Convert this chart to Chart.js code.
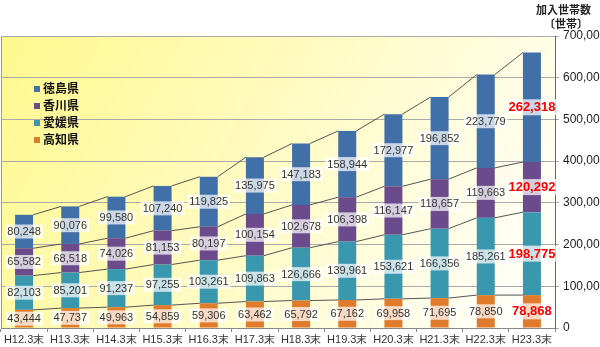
<!DOCTYPE html>
<html>
<head>
<meta charset="utf-8">
<script src="https://cdn.jsdelivr.net/npm/chart.js@4"></script>
<style>
    body { margin: 0; background: #fff; }
    #wrap { position: relative; width: 600px; height: 347px; }
    #legend { position: absolute; left: 34px; top: 79px; font: bold 12px "Noto Sans CJK JP", sans-serif; color: #111; }
    #legend div { height: 17px; line-height: 17px; }
    #legend span { display: inline-block; width: 6px; height: 6px; margin-right: 3px; vertical-align: 1px; }
    .unit { position: absolute; font: bold 11px "Noto Sans CJK JP", sans-serif; color: #222; }
</style>
</head>
<body>
<div id="wrap">
    <canvas id="chart" width="600" height="347"></canvas>
    <div class="unit" style="left:536px;top:1px;">加入世帯数</div>
    <div class="unit" style="left:544px;top:15px;">〔世帯〕</div>
    <div id="legend"></div>
</div>
<script>
const categories = ['H12.3末', 'H13.3末', 'H14.3末', 'H15.3末', 'H16.3末', 'H17.3末', 'H18.3末', 'H19.3末', 'H20.3末', 'H21.3末', 'H22.3末', 'H23.3末'];
const kochi = [43444, 47737, 49963, 54859, 59306, 63462, 65792, 67162, 69958, 71695, 78850, 78868];
const ehime = [82103, 85201, 91237, 97255, 103261, 109863, 126666, 139961, 153621, 166356, 185261, 198775];
const kagawa = [65582, 68518, 74026, 81153, 80197, 100154, 102678, 106398, 116147, 118657, 119663, 120292];
const tokushima = [80248, 90076, 99580, 107240, 119825, 135975, 147183, 158944, 172977, 196852, 223779, 262318];
const yTicks = [0, 100000, 200000, 300000, 400000, 500000, 600000, 700000];

const series = [
    { label: '高知県', data: kochi, color: '#e07b2c' },
    { label: '愛媛県', data: ehime, color: '#3a98ae' },
    { label: '香川県', data: kagawa, color: '#6c4b8c' },
    { label: '徳島県', data: tokushima, color: '#4170a8' }
];

// legend (top entry first)
const legend = document.getElementById('legend');
series.slice().reverse().forEach(s => {
    const row = document.createElement('div');
    row.innerHTML = `<span style="background:${s.color}"></span>${s.label}`;
    legend.appendChild(row);
});

const fmt = v => v.toLocaleString('en-US');

const plotBg = {
    id: 'plotBg',
    beforeDraw(chart) {
        const { ctx, chartArea: a } = chart;
        const g = ctx.createLinearGradient(a.left, a.top, a.right, a.bottom);
        g.addColorStop(0, '#fff88e');
        g.addColorStop(0.6, '#fffcd2');
        g.addColorStop(1, '#ffffff');
        ctx.save();
        ctx.fillStyle = g;
        ctx.fillRect(a.left, a.top, a.right - a.left, a.bottom - a.top);
        ctx.strokeStyle = '#999';
        ctx.lineWidth = 1;
        ctx.beginPath();
        ctx.moveTo(a.left + 0.5, a.bottom);
        ctx.lineTo(a.left + 0.5, a.top + 0.5);
        ctx.stroke();
        ctx.restore();
    }
};

const seriesLines = {
    id: 'seriesLines',
    afterDatasetsDraw(chart) {
        const ctx = chart.ctx;
        ctx.save();
        ctx.strokeStyle = '#555';
        ctx.lineWidth = 1;
        chart.data.datasets.forEach((ds, di) => {
            const bars = chart.getDatasetMeta(di).data;
            for (let i = 0; i < bars.length - 1; i++) {
                const a = bars[i], b = bars[i + 1];
                ctx.beginPath();
                ctx.moveTo(a.x + a.width / 2, a.y);
                ctx.lineTo(b.x - b.width / 2, b.y);
                ctx.stroke();
            }
        });
        ctx.restore();
    }
};

const valueLabels = {
    id: 'valueLabels',
    afterDatasetsDraw(chart) {
        const ctx = chart.ctx;
        ctx.save();
        ctx.textAlign = 'center';
        ctx.textBaseline = 'middle';
        chart.data.datasets.forEach((ds, di) => {
            const bars = chart.getDatasetMeta(di).data;
            bars.forEach((bar, i) => {
                const last = i === bars.length - 1;
                const text = fmt(ds.data[i]);
                ctx.font = last ? 'bold 13px "Liberation Sans", Arial' : '11px "Liberation Sans", Arial';
                const w = ctx.measureText(text).width + 4;
                const h = last ? 16 : 14;
                const cy = (bar.y + bar.base) / 2;
                ctx.fillStyle = 'rgba(255,255,255,0.72)';
                ctx.fillRect(bar.x - w / 2, cy - h / 2, w, h);
                ctx.fillStyle = last ? '#ff0000' : '#333';
                ctx.fillText(text, bar.x, cy + 0.5);
            });
        });
        ctx.restore();
    }
};

new Chart(document.getElementById('chart'), {
    type: 'bar',
    data: {
        labels: categories,
        datasets: series.map(s => ({
            label: s.label,
            data: s.data,
            backgroundColor: s.color,
            borderWidth: 0,
            categoryPercentage: 1,
            barPercentage: 0.39
        }))
    },
    options: {
        responsive: false,
        animation: false,
        layout: { padding: { top: 36, left: 1, right: 0, bottom: 0 } },
        plugins: { legend: { display: false }, tooltip: { enabled: false } },
        scales: {
            x: {
                stacked: true,
                grid: { drawOnChartArea: false, tickLength: 4, offset: true, color: '#888' },
                border: { color: '#888' },
                ticks: { color: '#333', font: { family: 'Liberation Sans', size: 11 }, maxRotation: 0, padding: 1 },
                afterFit(scale) { scale.height = 19; }
            },
            y: {
                stacked: true,
                position: 'right',
                min: 0,
                max: 700000,
                afterBuildTicks(scale) { scale.ticks = yTicks.map(v => ({ value: v })); },
                grid: { color: '#aaa', tickLength: 4 },
                border: { color: '#666' },
                ticks: { color: '#222', font: { family: 'Liberation Sans', size: 12 }, padding: 4, callback: v => fmt(v) },
                afterFit(scale) { scale.width = 45; }
            }
        }
    },
    plugins: [plotBg, seriesLines, valueLabels]
});
</script>
</body>
</html>
